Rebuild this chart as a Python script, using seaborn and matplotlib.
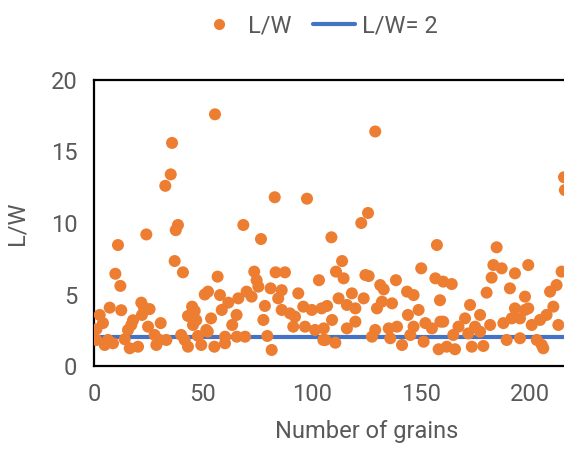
import matplotlib
matplotlib.use("Agg")
import matplotlib.pyplot as plt
from matplotlib.lines import Line2D
import seaborn as sns
import pandas as pd

# Grain index and measured length/width ratio
grain_no = [
    55.5, 35.8, 35.2, 32.7, 38.5, 37.5, 24, 11, 37, 40.8, 9.8, 12.1,
    129, 82.9, 97.7, 125.7, 122.6, 68.5, 215.6, 216,
    50.8, 52.3, 21.7, 7.2, 12.5, 22.9, 25.5, 22, 2.6, 45, 46.2, 43.1, 46.9, 4.1,
    17.9, 17.1, 30.6, 24.8, 45.4, 1.1, 15.6, 27.8, 40, 47.7, 51.5, 1.1, 4.9, 8.7,
    14.1, 16.4, 20.2, 28.6, 33.2, 41.6, 43.1, 49.2, 30.1, 6.4,
    76.6, 56.7, 73.5, 74.6, 75.4, 83.3, 87.6, 103.2, 57.8, 66.2, 70, 72.3, 81,
    86.1, 84.5, 93.7, 61.6, 58.6, 78.4, 65.4, 53.7, 86.1, 89.9, 96, 99.9, 104.4,
    92.2, 63.4, 77.7, 91.4, 96.8, 101.4, 52.2, 60.1, 65.5, 69.3, 79.5, 60.1, 55.2,
    81.5, 105.2,
    108.9, 157.3, 113.8, 111, 114.5, 124.5, 126, 138.5, 150.1, 156.6, 131.3,
    132.9, 143.6, 146.6, 118.3, 112.2, 123.7, 132.1, 136.7, 106.9, 116, 119.9,
    129.8, 148.9, 144, 109.2, 119.9, 105.4, 116, 129, 135.2, 139, 146.6, 152,
    155, 158.9, 106.1, 110.7, 127.5, 135.9, 141.3, 145.1, 151.2, 158.1,
    184.7, 183.2, 187, 193.1, 199.2, 182.4, 214.5, 160.2, 164.1, 190.8, 180.1,
    212.2, 209.2, 197.7, 158.7, 172.5, 193.1, 197.7, 210.7, 177.1, 191.6, 195.4,
    199.2, 204.6, 207.6, 160.2, 170.2, 167.2, 174.8, 181.7, 187.8, 200.8, 213,
    164.8, 171.7, 177.1, 189.3, 195.4, 203.1, 161.8, 165.6, 173.3, 178.6, 205.4,
    206.1,
]
lw_ratio = [
    17.6, 15.6, 13.4, 12.6, 9.86, 9.5, 9.2, 8.46, 7.34, 6.55, 6.45, 5.6,
    16.4, 11.8, 11.7, 10.7, 10.0, 9.86, 13.2, 12.3,
    5.0, 5.2, 4.43, 4.08, 3.9, 4.1, 3.98, 3.57, 3.57, 4.15, 3.85, 3.5, 3.2, 3.0,
    3.2, 2.87, 3.0, 2.75, 2.87, 2.57, 2.52, 2.17, 2.17, 2.1, 2.52, 1.82, 1.47, 1.59,
    1.87, 1.24, 1.35, 1.47, 1.82, 1.82, 1.35, 1.47, 1.82, 1.82,
    8.88, 6.25, 6.6, 6.0, 5.55, 6.55, 6.55, 6.0, 4.96, 4.73, 5.2, 4.85, 5.43,
    5.3, 4.73, 5.08, 4.43, 3.92, 4.2, 3.57, 3.33, 3.92, 3.68, 4.15, 3.92, 4.03,
    3.45, 2.87, 3.22, 2.75, 2.75, 2.52, 2.4, 2.05, 2.05, 2.05, 2.1, 1.59, 1.35,
    1.12, 1.82,
    9.0, 8.46, 7.34, 6.6, 6.13, 6.36, 6.29, 6.0, 6.83, 6.13, 5.66,
    5.36, 5.2, 4.96, 5.08, 4.73, 4.73, 4.5, 4.38, 4.2, 4.27, 4.03,
    4.03, 3.92, 3.57, 3.22, 3.1, 2.63, 2.63, 2.52, 2.63, 2.75, 2.75, 3.0,
    2.63, 3.1, 1.82, 1.63, 2.05, 1.94, 1.47, 2.17, 1.7, 1.17,
    8.3, 7.06, 6.83, 6.48, 7.06, 6.18, 6.6, 5.9, 5.73, 5.43, 5.13,
    5.66, 5.2, 4.85, 4.6, 4.27, 4.03, 3.92, 4.15, 3.57, 3.33, 3.33,
    4.03, 3.22, 3.57, 3.1, 3.33, 2.75, 2.75, 2.87, 3.0, 2.87, 2.87,
    2.17, 2.28, 2.4, 1.82, 1.94, 1.82, 1.35, 1.17, 1.35, 1.4, 1.47,
    1.24,
]

# Reference line L/W = 2
ref_x = [2, 240]
ref_y = [2, 2]

x_ticks = [0, 50, 100, 150, 200]
y_ticks = [0, 5, 10, 15, 20]

ORANGE = "#ED7D31"
BLUE = "#4472C4"
GREY = "#595959"

sns.set_theme(style="white")
plt.rcParams["font.family"] = ["Roboto", "DejaVu Sans"]

fig = plt.figure(figsize=(5.64, 4.59), dpi=100)
ax = fig.add_axes([94 / 564, 93 / 459, 545 / 564, 286 / 459])

pts = pd.DataFrame({"grain": grain_no, "lw": lw_ratio})
ref = pd.DataFrame({"grain": ref_x, "lw": ref_y})

sns.lineplot(data=ref, x="grain", y="lw", color=BLUE, linewidth=3.0, ax=ax,
             zorder=2)
sns.scatterplot(data=pts, x="grain", y="lw", color=ORANGE, s=75,
                edgecolor="none", ax=ax, zorder=3)

ax.set_xlim(0, 250)
ax.set_ylim(0, 20)
ax.set_xticks(x_ticks)
ax.set_yticks(y_ticks)
ax.tick_params(direction="in", length=6, width=1.5, colors="black",
               labelcolor=GREY, labelsize=17, pad=12)
for sp in ax.spines.values():
    sp.set_color("black")
    sp.set_linewidth(1.6)

ax.set_xlabel("Number of grains", fontsize=17, color=GREY, labelpad=10)
ax.set_ylabel("L/W", fontsize=17, color=GREY, labelpad=16)

handles = [
    Line2D([], [], marker="o", linestyle="none", markersize=8,
           markerfacecolor=ORANGE, markeredgecolor="none", label="L/W"),
    Line2D([], [], color=BLUE, linewidth=3.0, label="L/W= 2"),
]
fig.legend(handles=handles, loc="center", bbox_to_anchor=(318 / 564, 1 - 26 / 459),
           ncol=2, frameon=False, fontsize=17, labelcolor=GREY,
           handlelength=1.8, columnspacing=0.9, handletextpad=0.3)

fig.savefig("out.png", dpi=100)
